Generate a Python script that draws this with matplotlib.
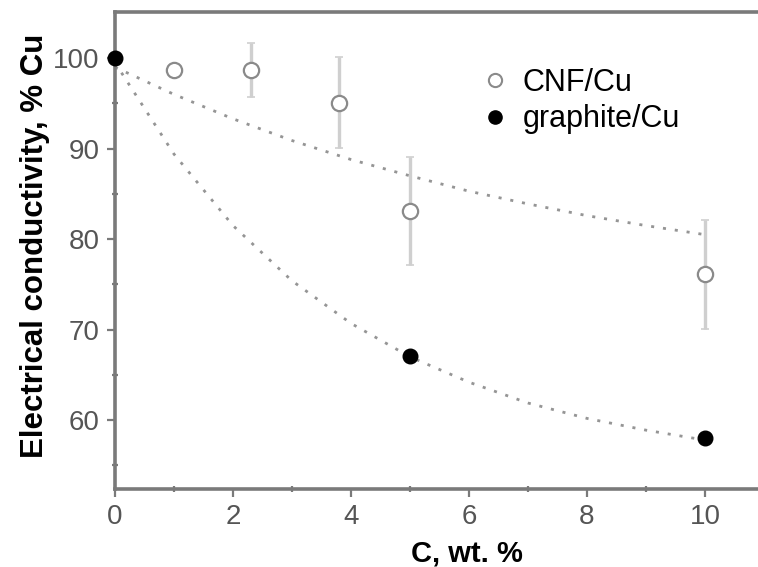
import matplotlib
matplotlib.use("Agg")
import matplotlib.pyplot as plt
from matplotlib.lines import Line2D

plt.rcParams['font.family'] = ['Liberation Sans', 'DejaVu Sans']

# CNF/Cu data
cnf_x = [1.0, 2.3, 3.8, 5.0, 10.0]
cnf_y = [98.7, 98.7, 95.1, 83.1, 76.1]
cnf_err = [0.0, 3.0, 5.0, 6.0, 6.0]

# graphite/Cu data
gr_x = [0.0, 5.0, 10.0]
gr_y = [100.0, 67.1, 58.0]

# fitted trend curves
fit_x = [0, 1, 2, 3, 4, 5, 6, 7, 8, 9, 10]
cnf_fit = [99.0, 96.0, 93.3, 90.9, 88.8, 87.0, 85.3, 83.9, 82.6, 81.5, 80.5]
gr_fit = [99.5, 89.4, 81.5, 75.4, 70.7, 67.0, 64.2, 61.9, 60.2, 58.9, 57.8]

x_ticks = [0, 2, 4, 6, 8, 10]
y_ticks = [60, 70, 80, 90, 100]

fig = plt.figure(figsize=(7.58, 5.67), dpi=100)
ax = fig.add_axes([115/758, 78/567, (758-115)/758, (555-78)/567])

spine_c = '#7a7a7a'
fit_c = '#959595'

ax.plot(fit_x, cnf_fit, color=fit_c, lw=2.0, dashes=(1.1, 3.2), zorder=2)
ax.plot(fit_x, gr_fit, color=fit_c, lw=2.0, dashes=(1.1, 3.2), zorder=2)

ax.errorbar(cnf_x, cnf_y, yerr=cnf_err, fmt='none', ecolor='#cfcfcf',
            elinewidth=2.4, capsize=3, capthick=1.2, zorder=3)
ax.plot(cnf_x, cnf_y, 'o', ms=11, mfc='white', mec='#8a8a8a', mew=1.6,
        ls='none', zorder=4)
ax.plot(gr_x, gr_y, 'o', ms=10.5, mfc='black', mec='black', ls='none',
        zorder=5, clip_on=False)

ax.set_xlim(0, (758-115)/59)
ax.set_ylim(52.4, 105.1)
ax.set_xticks(x_ticks)
ax.set_yticks(y_ticks)
ax.set_xticks([1, 3, 5, 7, 9], minor=True)
ax.set_yticks([55, 65, 75, 85, 95], minor=True)

for s in ['left', 'bottom', 'top']:
    ax.spines[s].set_color(spine_c)
    ax.spines[s].set_linewidth(2.6)
ax.spines['right'].set_visible(False)

ax.tick_params(axis='both', which='major', direction='out', length=6,
               width=1.6, color=spine_c, labelsize=20, labelcolor='#555555',
               pad=5)
ax.tick_params(axis='both', which='minor', direction='inout', length=4,
               width=1.6, color=spine_c)

ax.set_ylabel('Electrical conductivity, % Cu', fontsize=22.5,
              fontweight='bold', color='black')
ax.yaxis.set_label_coords((50-115)/643, 0.51)
fig.text(467/758, 5/567, 'C, wt. %', fontsize=21, fontweight='bold',
         color='black', ha='center', va='baseline')

handles = [
    Line2D([], [], marker='o', ls='none', ms=9.5, mfc='white', mec='#8a8a8a', mew=1.5),
    Line2D([], [], marker='o', ls='none', ms=9.5, mfc='black', mec='black'),
]
ax.legend(handles, ['CNF/Cu', 'graphite/Cu'], loc='center left',
          bbox_to_anchor=((483-115)/643, (466-78)/477),
          frameon=False, fontsize=22, handlelength=0.8, handletextpad=0.5,
          labelspacing=0.22, borderaxespad=0, borderpad=0)

fig.savefig('out.png', dpi=100)
